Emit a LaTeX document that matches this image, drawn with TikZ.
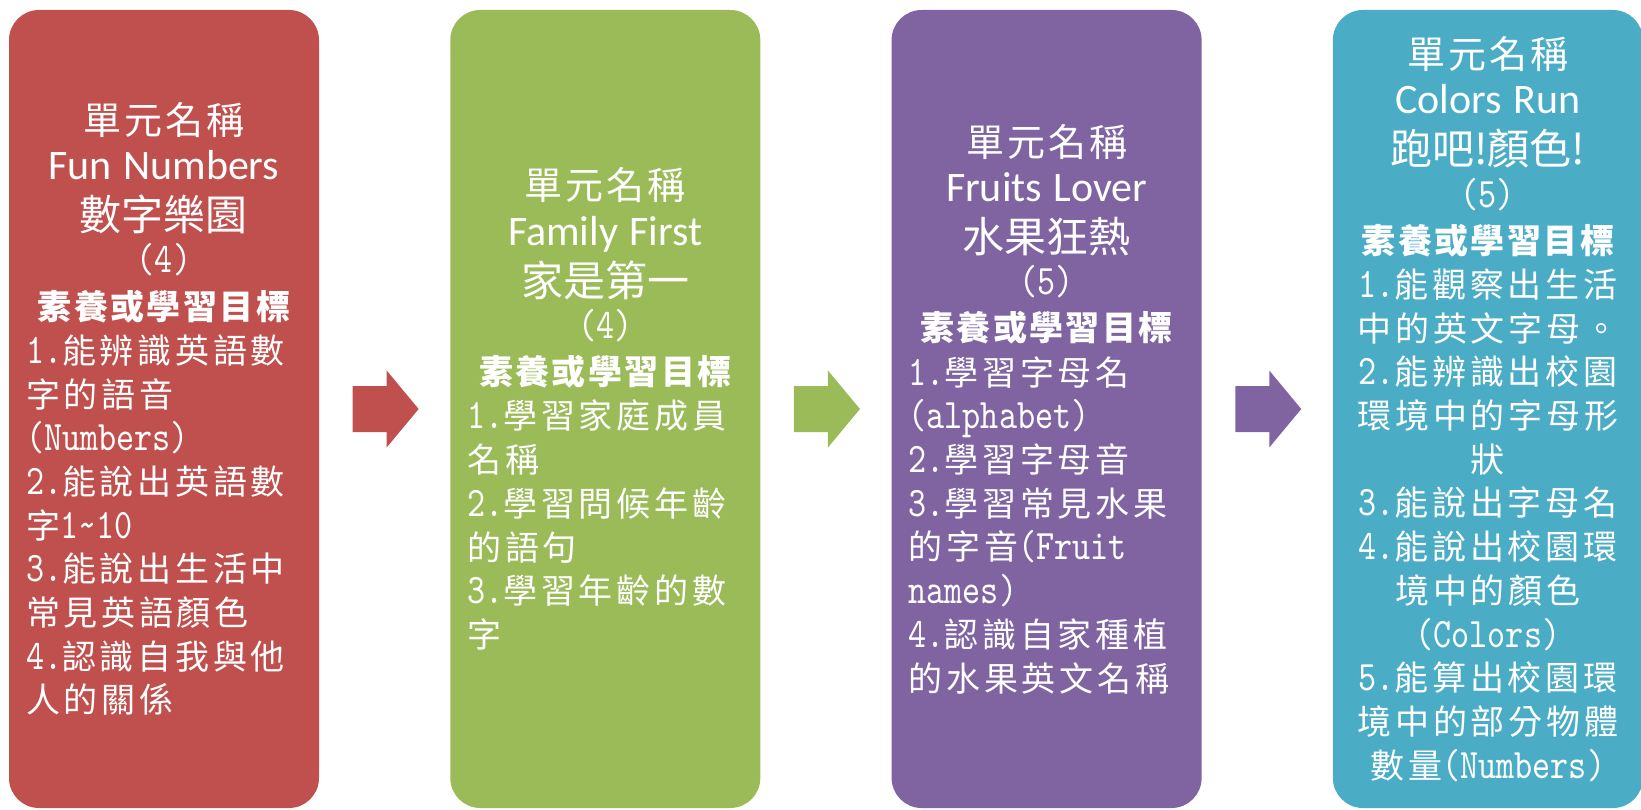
\documentclass[tikz,border=0pt]{standalone}
\usepackage{fontspec}
\usetikzlibrary{calc}

\newfontfamily\zhfont[LetterSpace=11]{Noto Sans CJK TC}
\newfontfamily\zhwidefont[LetterSpace=8]{Noto Sans CJK TC}
\newfontfamily\zhgoalfont[LetterSpace=7]{Noto Sans CJK TC}
\newfontfamily\zhtitlefont{Noto Sans CJK TC}
\newfontfamily\entitlefont{Carlito}
\newfontfamily\monofont[FakeStretch=0.82]{lmmono10-regular.otf}

\definecolor{cRed}{HTML}{C0504D}
\definecolor{cGreen}{HTML}{9BBB59}
\definecolor{cPurple}{HTML}{8064A2}
\definecolor{cBlue}{HTML}{4BACC6}

\newcommand\unitname{{\fontsize{38}{43.7}\zhwidefont 單元名稱}}
\newcommand\entitle[1]{{\fontsize{42}{43.7}\entitlefont #1}}
\newcommand\zhtitle[1]{{\fontsize{42}{43.7}\zhtitlefont #1}}
\newcommand\en[1]{{\fontsize{42}{43.7}\monofont #1}}
\newcommand\goal{{\fontsize{34}{43.7}\zhgoalfont\bfseries 素養或學習目標}}
\newcommand\lline[1]{#1\hfill\null}

\tikzset{
	unitbox/.style={rectangle, rounded corners=30pt, fill=#1, text=white,
		minimum width=310pt, minimum height=798pt, text width=276pt,
		align=center, inner sep=0pt, font=\fontsize{34}{43.7}\zhfont},
}

\begin{document}
\begin{tikzpicture}[x=1pt, y=-1pt]
	\useasboundingbox (0,0) rectangle (1641,810);

	% four units
	\node [unitbox=cRed] (fun) at (164,409) {%
		\unitname\\[1.5pt]
		\entitle{Fun Numbers}\\[7.5pt]
		\zhtitle{數字樂園}\\[-1.5pt]
		\en{(4)}\\[2.5pt]
		\goal\\[0.5pt]
		\lline{\en{1.}能辨識英語數}\\
		\lline{字的語音}\\
		\lline{\en{(Numbers)}}\\
		\lline{\en{2.}能說出英語數}\\
		\lline{字\en{1\textasciitilde10}}\\
		\lline{\en{3.}能說出生活中}\\
		\lline{常見英語顏色}\\
		\lline{\en{4.}認識自我與他}\\
		\lline{人的關係}};
	\node [unitbox=cGreen] (family) at (605.3,409) {%
		\unitname\\[1.5pt]
		\entitle{Family First}\\[7.5pt]
		\zhtitle{家是第一}\\[-1.5pt]
		\en{(4)}\\[2.5pt]
		\goal\\[0.5pt]
		\lline{\en{1.}學習家庭成員}\\
		\lline{名稱}\\
		\lline{\en{2.}學習問候年齡}\\
		\lline{的語句}\\
		\lline{\en{3.}學習年齡的數}\\
		\lline{字}};
	\node [unitbox=cPurple] (fruits) at (1046.6,409) {%
		\unitname\\[1.5pt]
		\entitle{Fruits Lover}\\[7.5pt]
		\zhtitle{水果狂熱}\\[-1.5pt]
		\en{(5)}\\[2.5pt]
		\goal\\[0.5pt]
		\lline{\en{1.}學習字母名}\\
		\lline{\en{(alphabet)}}\\
		\lline{\en{2.}學習字母音}\\
		\lline{\en{3.}學習常見水果}\\
		\lline{的字音\en{(Fruit}}\\
		\lline{\en{names)}}\\
		\lline{\en{4.}認識自家種植}\\
		\lline{的水果英文名稱}};
	\node [unitbox=cBlue] (colors) at (1487.9,409) {%
		\unitname\\[1.5pt]
		\entitle{Colors Run}\\[7.5pt]
		\zhtitle{跑吧!顏色!}\\[-1.5pt]
		\en{(5)}\\[2.5pt]
		\goal\\[0.5pt]
		\en{1.}能觀察出生活\\
		中的英文字母。\\
		\en{2.}能辨識出校園\\
		環境中的字母形\\
		狀\\
		\en{3.}能說出字母名\\
		\en{4.}能說出校園環\\
		境中的顏色\\
		\en{(Colors)}\\
		\en{5.}能算出校園環\\
		境中的部分物體\\
		數量\en{(Numbers)}};

	% block arrows between units
	\foreach \a/\b/\c in {fun/family/cRed, family/fruits/cGreen, fruits/colors/cPurple} {
		\coordinate (m) at ($(\a.east)!.5!(\b.west)$);
		\fill [\c] ($(m)+(-32,-23)$) -- ++(34,0) -- ++(0,-15.5) -- ($(m)+(34,0)$)
			-- ($(m)+(2,38.5)$) -- ++(0,-15.5) -- ($(m)+(-32,23)$) -- cycle;
	}
\end{tikzpicture}
\end{document}
